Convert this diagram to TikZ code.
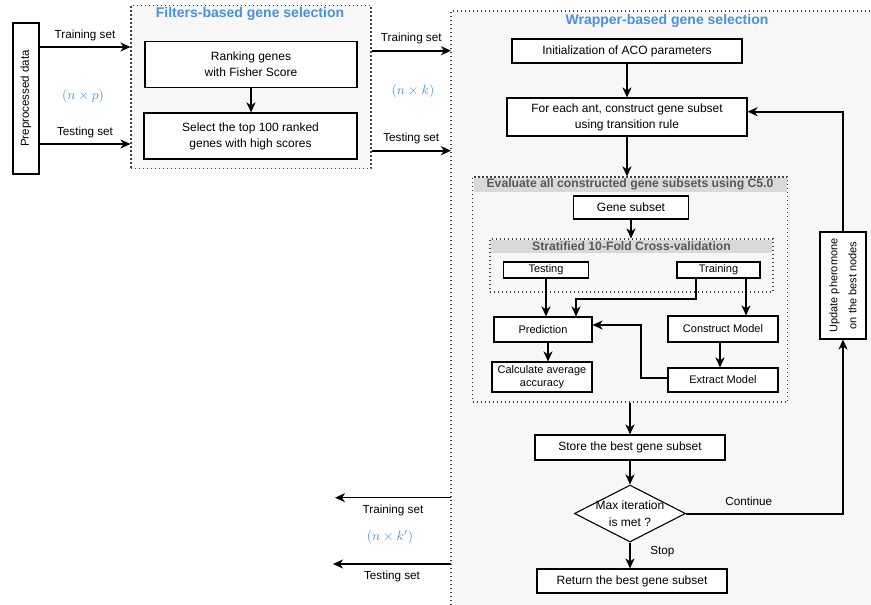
\documentclass[tikz,border=0pt]{standalone}
\usepackage{graphicx}
\usepackage{fontspec}
\setmainfont{Liberation Sans}
\usetikzlibrary{arrows.meta,shapes.geometric,positioning}
\definecolor{headblue}{RGB}{74,144,226}
\definecolor{panelgray}{RGB}{247,247,247}
\definecolor{bandgray}{RGB}{217,217,217}
\definecolor{bandtext}{RGB}{88,88,88}
\newcommand{\dimtext}[1]{\scalebox{1.35}{$#1$}}
\tikzset{%
  every box/.style={draw,fill=white,line width=1.1pt,align=center,inner sep=1pt,font=\fontsize{12}{16}\selectfont},
  wh/.style 2 args={minimum width=#1pt,minimum height=#2pt},
}

\begin{document}
\begin{tikzpicture}[x=1pt,y=-1pt,
            >={Stealth[length=10pt,width=9pt,inset=3pt]},
            flow/.style={->,line width=2pt,font=\fontsize{11.7}{14}\selectfont},
            thin flow/.style={flow,line width=1.4pt},
            panel/.style={
              draw=black!75,
              fill=panelgray,
              line width=1.1pt,
              dash pattern=on 1.1pt off 2.9pt
              },
            band/.style={fill=bandgray,inner sep=0},
            small box/.style={every box,font=\fontsize{11}{12.5}\selectfont},
            title/.style={text=headblue,font=\bfseries\fontsize{14}{16}\selectfont},
            head/.style={text=bandtext,font=\bfseries\fontsize{12.2}{14}\selectfont},
            dim/.style={text=headblue,font=\normalsize}
            ]
            \useasboundingbox (0,0) rectangle (871,605);

            \node[panel,wh={240}{163}] (filters) at (251,87) {};
            \node[title] (filterstitle) at (250,14) {Filters-based gene selection};
            \node[fill=panelgray,inner sep=0,anchor=north west,wh={420}{594}] (wrapper) at (451,11) {};
            \draw[panel,fill=none] (wrapper.south west) -- (wrapper.north west) -- (wrapper.north east);
            \node[title] (wrappertitle) at (667,21) {Wrapper-based gene selection};

            \node[every box,rotate=90,wh={151}{26},font=\fontsize{11.5}{13}\selectfont] (data) at (26,98.5) {Preprocessed data};
            \node[every box,wh={212}{46}] (rank) at (251,64.7) {Ranking genes\\with Fisher Score};
            \node[every box,wh={213}{46}] (select) at (250.5,136) {Select the top 100 ranked\\genes with high scores};

            \node[every box,wh={230}{24}] (init) at (627,51) {Initialization of ACO parameters};
            \node[every box,wh={240}{38}] (ant) at (627,117) {For each ant, construct gene subset\\using transition rule};

            \node[panel,wh={315}{225}] (eval) at (630,289.5) {};
            \node[band,anchor=north,wh={313}{14}] (evalband) at ([yshift=-1pt]eval.north) {};
            \node[head] (evalhead) at (evalband) {Evaluate all constructed gene subsets using C5.0};
            \node[every box,wh={115}{23}] (gene) at (631,207.5) {Gene subset};

            \node[panel,wh={283}{53}] (strat) at (631.5,265.5) {};
            \node[band,anchor=north,wh={281}{13}] (stratband) at ([yshift=-1pt]strat.north) {};
            \node[head] (strathead) at (stratband) {Stratified 10-Fold Cross-validation};
            \node[small box,wh={85}{16}] (testing) at (546,270) {Testing};
            \node[small box,wh={83}{16}] (training) at (718.5,270) {Training};

            \node[small box,wh={98}{25}] (predict) at (543,329.5) {Prediction};
            \node[small box,wh={110}{26}] (construct) at (723,329) {Construct Model};
            \node[small box,wh={100}{30}] (average) at (542,377) {Calculate average\\accuracy};
            \node[small box,wh={110}{24}] (extract) at (723,380) {Extract Model};

            \node[every box,wh={190}{25}] (store) at (630,447.5) {Store the best gene subset};
            \node[every box,diamond,wh={111}{57},inner sep=0] (check) at (630,513.5) {};
            \node[align=center,font=\fontsize{12}{17}\selectfont] (checktext) at (check) {Max iteration\\is met ?};
            \node[every box,wh={190}{24}] (result) at (632,581) {Return the best gene subset};
            \node[every box,rotate=90,wh={107}{46},font=\fontsize{11}{19}\selectfont] (update) at (843,285.5) {Update pheromone\\on the best nodes};

            \node[dim] (dimp) at (83,96) {\dimtext{(n\times p)}};
            \node[dim] (dimk) at (413,91) {\dimtext{(n\times k)}};
            \node[dim] (dimkk) at (390,537) {\dimtext{(n\times k')}};
            \coordinate (outtrain) at (335,497.7);
            \coordinate (outtest) at (333,564);

            \foreach \yy/\txt in {47/Training set,144/Testing set}
              \draw[thin flow] (data.south |- 0,\yy) -- (filters.west |- 0,\yy) node[midway,above=2pt] {\txt};
            \foreach \yy/\txt in {50.7/Training set,150.7/Testing set}
              \draw[flow] (filters.east |- 0,\yy) -- (wrapper.west |- 0,\yy) node[midway,above=2.5pt] {\txt};
            \foreach \pt/\txt in {outtrain/Training set,outtest/Testing set}
              \draw[thin flow] (wrapper.west |- \pt) -- (\pt) node[midway,below=3pt] {\txt};

            \draw[flow] (rank.south) -- (rank.south |- select.north);
            \draw[flow] (init) -- (ant);
            \draw[flow] (ant.south) -- (ant.south |- eval.north);
            \draw[flow] (gene.south) -- (gene.south |- strat.north);
            \draw[flow] (testing.south) -- (testing.south |- predict.north);
            \draw[flow] ([xshift=-22.5pt]training.south) -- ++(0,20) -| ([xshift=33pt]predict.north);
            \draw[flow] ([xshift=27.5pt]training.south) -- ([xshift=27.5pt]training.south |- construct.north);
            \draw[flow] ([xshift=-3pt]construct.south) -- ([xshift=-3pt]construct.south |- extract.north);
            \draw[flow] ([yshift=2pt]extract.west) -- ++(-26,0) |- ([yshift=4.5pt]predict.east);
            \draw[flow] ([xshift=5pt]predict.south) -- ([xshift=5pt]predict.south |- average.north);
            \draw[flow] (eval.south) -- (eval.south |- store.north);
            \draw[flow] (store) -- (check);
            \draw[flow] (check.south) -- (check.south |- result.north) node[midway,right=16pt,yshift=4pt] {Stop};
            \draw[flow] (check.east) -| (update.west) node[pos=0.2,above=4pt] {Continue};
            \draw[flow] (update.east) |- ([yshift=5.3pt]ant.east);
\end{tikzpicture}
\end{document}
